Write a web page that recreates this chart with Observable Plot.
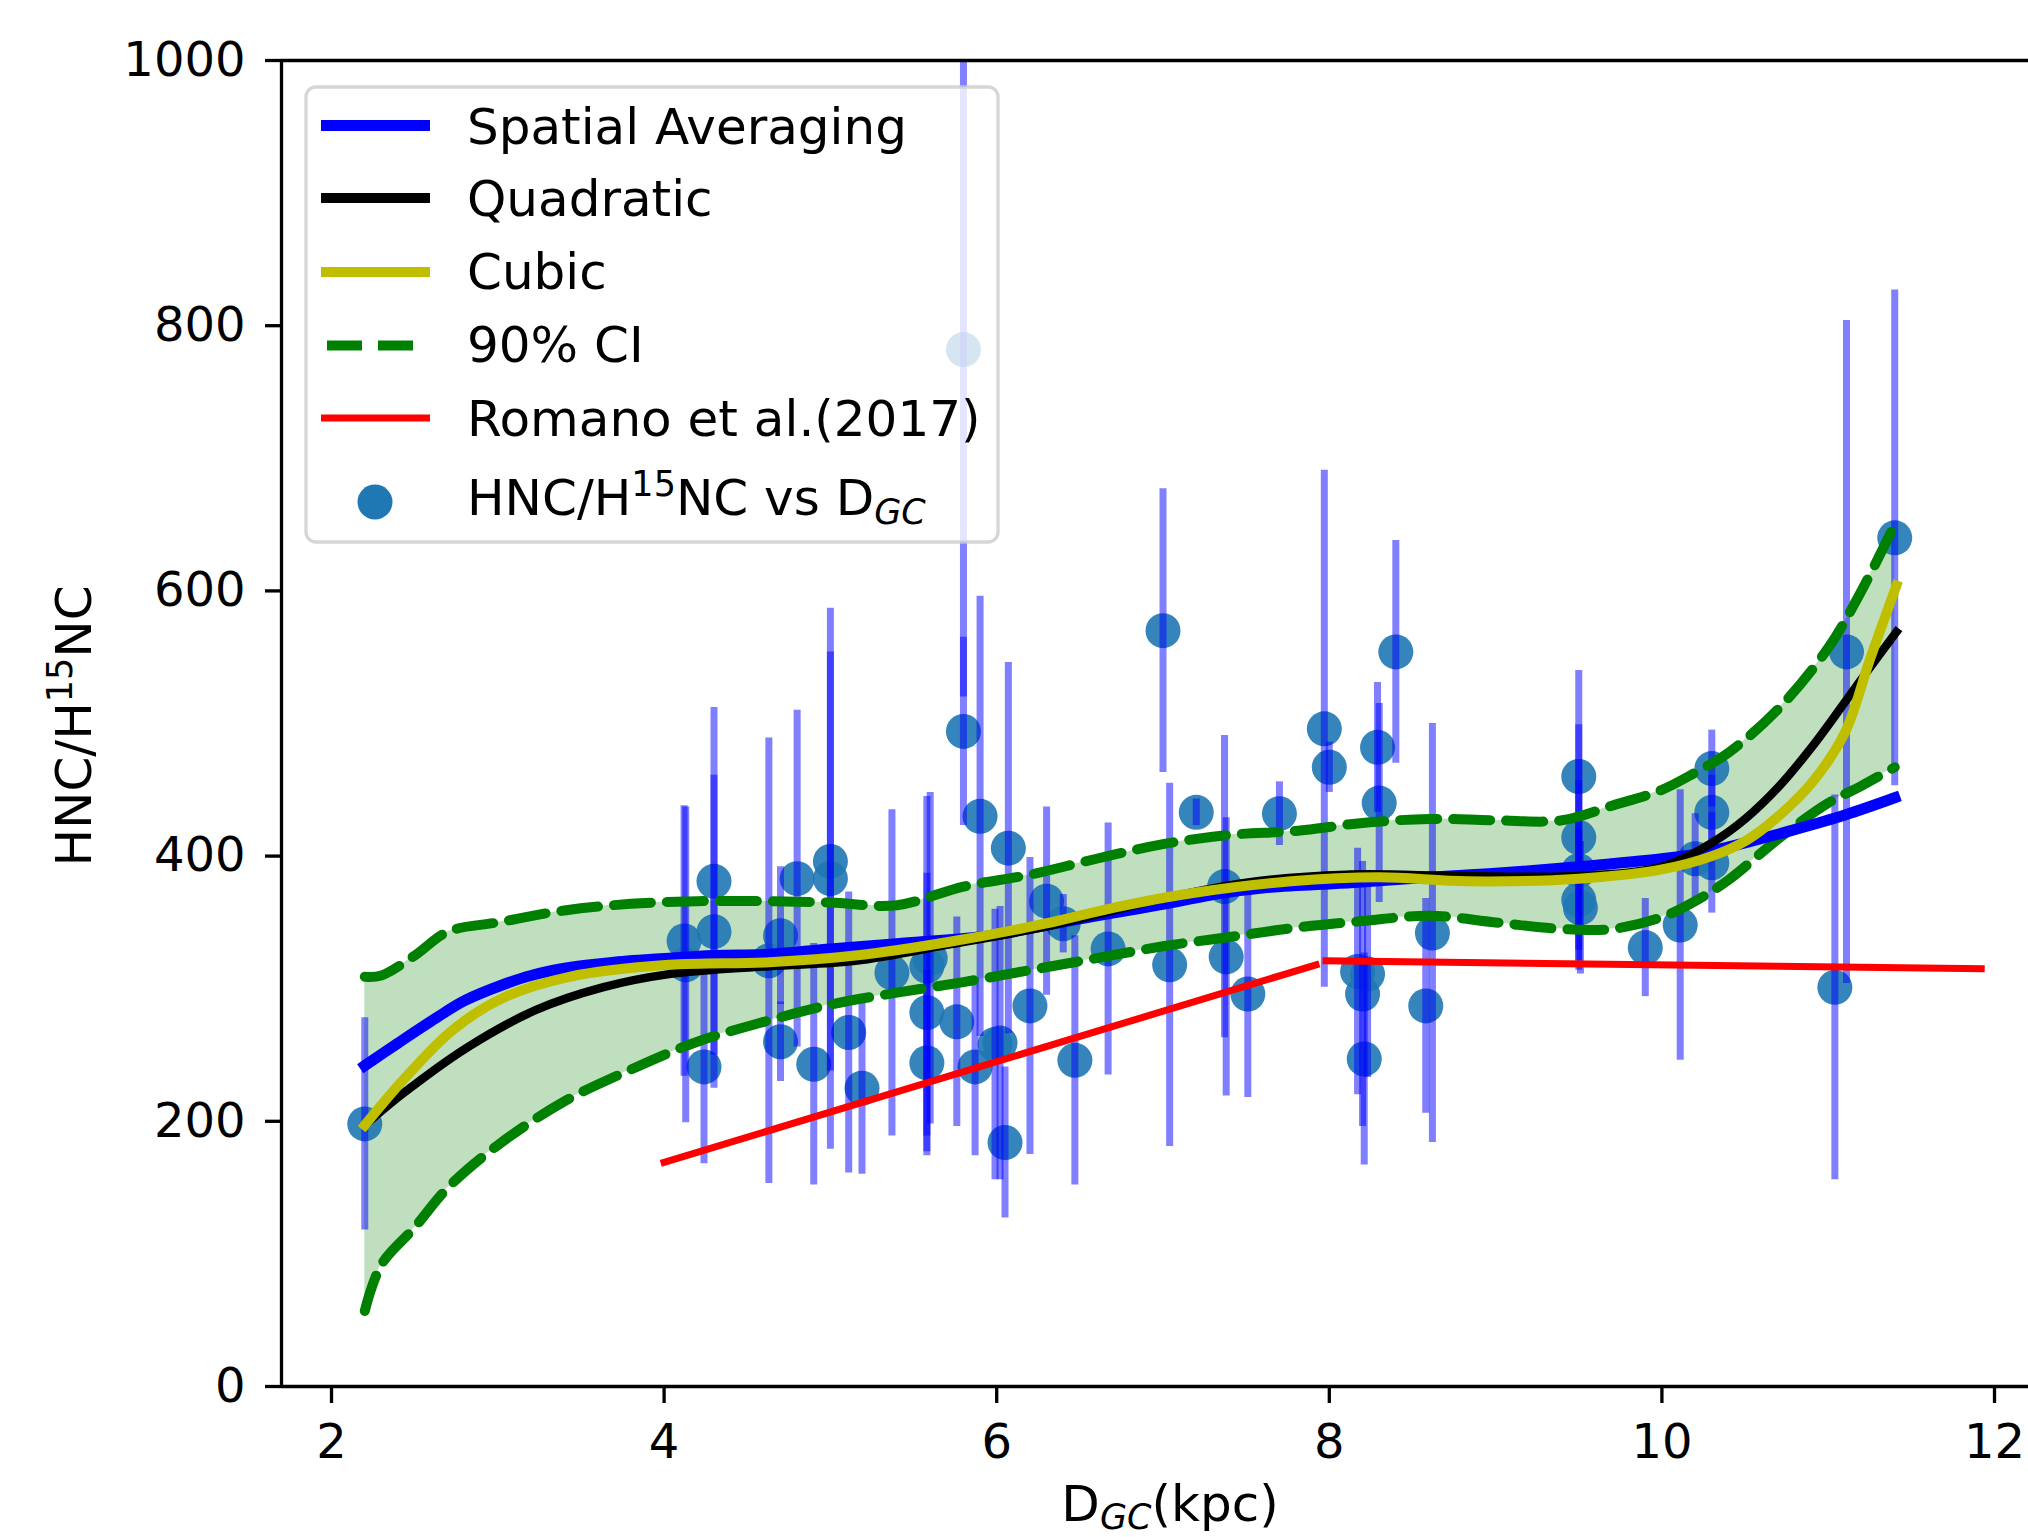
<!DOCTYPE html>
<html><head><meta charset="utf-8">
<script src="https://cdn.jsdelivr.net/npm/d3@7"></script>
<script src="https://cdn.jsdelivr.net/npm/@observablehq/plot@0.6"></script>
<style>
body{margin:0;background:#fff;}
#chart{position:relative;width:2028px;height:1537px;overflow:hidden;background:#fff;}
</style></head><body><div id="chart"></div>
<script>
// ---- data: HNC/H15NC ratio vs galactocentric distance ----
const dgc = [2.20,4.12,4.13,4.24,4.30,4.30,4.63,4.70,4.70,4.80,4.90,5.00,5.00,5.11,5.19,5.37,5.58,5.60,5.58,5.58,5.76,5.80,5.80,5.87,5.90,5.99,6.02,6.05,6.07,6.20,6.30,6.40,6.47,6.67,7.00,7.04,7.20,7.37,7.38,7.51,7.70,7.97,8.00,8.17,8.23,8.20,8.21,8.29,8.30,8.40,8.58,8.62,9.50,9.50,9.50,9.50,9.51,9.90,10.11,10.20,10.30,10.30,10.30,11.04,11.11,11.40];
const ratio = [198,336,318,241,381,343,321,340,260,383,243,396,383,267,225,312,317,323,282,244,275,494,782,241,430,258,259,184,406,287,366,349,246,330,570,318,433,377,324,296,432,496,467,313,311,296,247,482,440,554,287,342,460,414,389,367,361,331,348,398,466,433,395,301,554,640];
const ratioErr = [80,102,119,73,131,118,168,52,30,127,91,158,204,106,65,123,128,125,105,70,79,71,262,67,166,102,103,57,140,112,71,22,94,95,107,137,10,114,105,78,24,195,19,93,78,100,80,49,75,84,81,158,80,85,68,53,50,37,102,34,29,28,38,145,250,187];

// Spatial averaging
const avgX = [2.2,2.4,2.63,2.8,3.03,3.2,3.43,3.7,4.03,4.3,4.63,5.0,5.4,5.96,6.3,6.6,6.97,7.35,7.6,8.15,8.6,9.0,9.5,10.0,10.23,10.5,10.77,11.1,11.4];
const avgY = [242,259,278,291,303,310,316,320,323,325,326,330,334,340,348,355,363,372,376,380,384,387,392,398,402,410,419,431,444];
// Quadratic fit
const quadX = [2.2,2.43,2.82,3.23,3.63,4.03,4.63,5.15,5.7,6.3,7.0,7.5,8.1,8.8,9.5,10.0,10.3,10.5,10.7,10.9,11.1,11.25,11.41];
const quadY = [197,221,256,284,301,311,317,321,333,347,368,380,386,385,385,392,410,428,452,482,516,542,569];
// Cubic fit
const cubX = [2.2,2.43,2.73,3.03,3.43,4.03,4.63,5.15,5.7,6.29,6.7,7.17,7.77,8.3,8.83,9.5,10.0,10.3,10.51,10.7,10.9,11.1,11.25,11.41];
const cubY = [197,231,269,293,309,318,320,325,335,349,361,372,381,384,381,383,390,400,412,430,455,493,548,604];
// 90% confidence interval
const ciX  = [2.2,2.3,2.5,2.7,3.0,3.4,3.8,4.2,4.6,5.0,5.4,5.8,6.2,6.6,7.0,7.4,7.8,8.2,8.6,9.0,9.4,9.7,10.0,10.2,10.4,10.7,11.0,11.2,11.4];
const ciLo = [57,92,120,150,182,215,239,260,275,288,297,305,314,323,332,339,346,351,355,350,345,345,354,366,382,413,440,453,467];
const ciHi = [309,310,325,343,350,359,364,366,366,365,363,377,386,398,409,416,419,425,428,427,427,438,450,463,478,511,557,600,650];
// Romano et al. (2017) gradient, two segments
const romX = [4.0,7.92,7.98,11.92];
const romY = [169,318,321,315];
const romSeg = ["inner","inner","outer","outer"];

const xTicks = [2,4,6,8,10,12];
const yTicks = [0,200,400,600,800,1000];
const xDomain = [1.6993, 12.2044];
const yDomain = [0, 1000];

// ---- tables ----
const pts = dgc.map((x,i)=>({x, y: ratio[i], lo: ratio[i]-ratioErr[i], hi: ratio[i]+ratioErr[i]}));
const avg = avgX.map((x,i)=>({x, y: avgY[i]}));
const quad = quadX.map((x,i)=>({x, y: quadY[i]}));
const cub = cubX.map((x,i)=>({x, y: cubY[i]}));
const ci = ciX.map((x,i)=>({x, lo: ciLo[i], hi: ciHi[i]}));
const rom = romX.map((x,i)=>({x, y: romY[i], seg: romSeg[i]}));

const chart = Plot.plot({
  width: 2028, height: 1537,
  marginLeft: 281, marginRight: 0, marginTop: 60, marginBottom: 151,
  style: {fontFamily: "DejaVu Sans", fontSize: "48px", background: "white", color: "black", overflow: "hidden"},
  x: {domain: xDomain, label: null},
  y: {domain: yDomain, label: null},
  marks: [
    Plot.areaY(ci, {x: "x", y1: "lo", y2: "hi", fill: "green", fillOpacity: 0.25, curve: "catmull-rom"}),
    Plot.dot(pts, {x: "x", y: "y", r: 17.5, fill: "#1f77b4", fillOpacity: 0.9}),
    Plot.ruleX(pts, {x: "x", y1: "lo", y2: "hi", stroke: "#0000ff", strokeOpacity: 0.5, strokeWidth: 7, clip: true}),
    Plot.line(ci, {x: "x", y: "hi", stroke: "green", strokeWidth: 10, strokeDasharray: "37,16", curve: "catmull-rom"}),
    Plot.line(ci, {x: "x", y: "lo", stroke: "green", strokeWidth: 10, strokeDasharray: "37,16", curve: "catmull-rom"}),
    Plot.line(avg, {x: "x", y: "y", stroke: "#0000ff", strokeWidth: 11, curve: "catmull-rom", strokeLinecap: "square"}),
    Plot.line(quad, {x: "x", y: "y", stroke: "black", strokeWidth: 8.5, curve: "catmull-rom", strokeLinecap: "square"}),
    Plot.line(cub, {x: "x", y: "y", stroke: "#bfbf00", strokeWidth: 10, curve: "catmull-rom", strokeLinecap: "square"}),
    Plot.line(rom, {x: "x", y: "y", z: "seg", stroke: "#ff0000", strokeWidth: 7, strokeLinecap: "square"}),
    Plot.ruleY([yDomain[0], yDomain[1]], {stroke: "black", strokeWidth: 3.3}),
    Plot.ruleX([xDomain[0]], {stroke: "black", strokeWidth: 3.3}),
    Plot.axisX({ticks: xTicks, tickSize: 17, tickPadding: 20, strokeWidth: 3.3, tickFormat: d => String(d), fontSize: 48}),
    Plot.axisY({ticks: yTicks, tickSize: 16, tickPadding: 20, strokeWidth: 3.3, tickFormat: d => String(d), fontSize: 48})
  ]
});
document.getElementById("chart").appendChild(chart);

// ---- axis labels & legend (drawn on top, matplotlib-style) ----
const svg = d3.select(chart);
const NS = "DejaVu Sans";

// x label: D_GC(kpc)
const xl = svg.append("text").attr("x", 1170).attr("y", 1521).attr("text-anchor", "middle")
  .attr("font-family", NS).attr("font-size", 50).attr("fill", "black");
xl.append("tspan").text("D");
xl.append("tspan").attr("font-size", 35).attr("font-style", "italic").attr("dy", 8).text("GC");
xl.append("tspan").attr("dy", -8).text("(kpc)");

// y label: HNC/H15NC
const yl = svg.append("text").attr("transform", "translate(91,726) rotate(-90)").attr("text-anchor", "middle")
  .attr("font-family", NS).attr("font-size", 50).attr("fill", "black");
yl.append("tspan").text("HNC/H");
yl.append("tspan").attr("font-size", 35).attr("dy", -19).text("15");
yl.append("tspan").attr("dy", 19).text("NC");

// legend
const lg = svg.append("g").attr("font-family", NS).attr("font-size", 50).attr("fill", "black").attr("text-anchor", "start");
lg.append("rect").attr("x", 306).attr("y", 87).attr("width", 692).attr("height", 455).attr("rx", 10)
  .attr("fill", "white").attr("fill-opacity", 0.8).attr("stroke", "#cccccc").attr("stroke-opacity", 0.8).attr("stroke-width", 3.3);
const handles = [
  {y: 125.5, stroke: "#0000ff", w: 11, dash: null},
  {y: 198, stroke: "black", w: 10, dash: null},
  {y: 272, stroke: "#bfbf00", w: 10, dash: null},
  {y: 345.5, stroke: "green", w: 10, dash: "35,16"},
  {y: 418, stroke: "#ff0000", w: 7, dash: null}
];
handles.forEach(h => {
  const ln = lg.append("line").attr("x1", h.dash ? 327 : 321).attr("x2", h.dash ? 415 : 430)
    .attr("y1", h.y).attr("y2", h.y).attr("stroke", h.stroke).attr("stroke-width", h.w);
  if (h.dash) ln.attr("stroke-dasharray", h.dash);
});
lg.append("circle").attr("cx", 375).attr("cy", 502).attr("r", 17.5).attr("fill", "#1f77b4");
const labels = ["Spatial Averaging", "Quadratic", "Cubic", "90% CI", "Romano et al.(2017)"];
const baselines = [143.5, 216, 289, 362, 435.5];
labels.forEach((t,i) => lg.append("text").attr("x", 467).attr("y", baselines[i]).attr("text-anchor", "start").text(t));
const lt = lg.append("text").attr("x", 467).attr("y", 515).attr("text-anchor", "start");
lt.append("tspan").text("HNC/H");
lt.append("tspan").attr("font-size", 35).attr("dy", -19).text("15");
lt.append("tspan").attr("dy", 19).text("NC vs D");
lt.append("tspan").attr("font-size", 35).attr("font-style", "italic").attr("dy", 9).text("GC");
</script>
</body></html>
